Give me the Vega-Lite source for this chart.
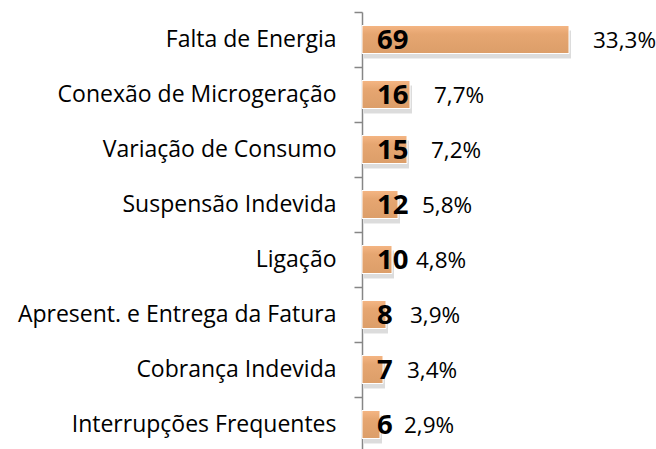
{
  "$schema": "https://vega.github.io/schema/vega-lite/v6.json",
  "width": 294,
  "height": 440,
  "autosize": {"type": "none"},
  "padding": {"left": 362, "top": 12, "right": 0, "bottom": 0},
  "background": "white",
  "config": {"view": {"stroke": null}, "font": "Open Sans"},
  "data": {
    "values": [
      {"categoria": "Falta de Energia", "qtd": 69, "pct": "33,3%"},
      {"categoria": "Conexão de Microgeração", "qtd": 16, "pct": "7,7%"},
      {"categoria": "Variação de Consumo", "qtd": 15, "pct": "7,2%"},
      {"categoria": "Suspensão Indevida", "qtd": 12, "pct": "5,8%"},
      {"categoria": "Ligação", "qtd": 10, "pct": "4,8%"},
      {"categoria": "Apresent. e Entrega da Fatura", "qtd": 8, "pct": "3,9%"},
      {"categoria": "Cobrança Indevida", "qtd": 7, "pct": "3,4%"},
      {"categoria": "Interrupções Frequentes", "qtd": 6, "pct": "2,9%"}
    ]
  },
  "encoding": {
    "y": {
      "field": "categoria",
      "type": "nominal",
      "sort": null,
      "scale": {"paddingInner": 0, "paddingOuter": 0},
      "axis": {
        "title": null,
        "domainColor": "#868686",
        "domainWidth": 1.5,
        "tickColor": "#868686",
        "tickWidth": 1.5,
        "tickSize": 8,
        "tickBand": "extent",
        "labelFont": "Open Sans",
        "labelFontSize": 23,
        "labelColor": "#000000",
        "labelPadding": 18,
        "labelLimit": 400
      }
    },
    "x": {
      "field": "qtd",
      "type": "quantitative",
      "scale": {"domain": [0, 98], "nice": false},
      "axis": null
    }
  },
  "layer": [
    {
      "mark": {"type": "bar", "size": 28, "color": "#9a9a9a", "opacity": 0.35, "xOffset": 2, "yOffset": 5}
    },
    {
      "mark": {
        "type": "bar",
        "size": 28,
        "stroke": "white",
        "strokeWidth": 1,
        "color": {
          "gradient": "linear",
          "x1": 0, "y1": 0, "x2": 0, "y2": 1,
          "stops": [
            {"offset": 0, "color": "#F5B684"},
            {"offset": 0.3, "color": "#E6A671"},
            {"offset": 1, "color": "#DC9E69"}
          ]
        }
      }
    },
    {
      "mark": {"type": "text", "align": "left", "baseline": "middle", "dx": 15, "dy": 1, "fontSize": 27.5, "fontWeight": "bold", "font": "Open Sans", "color": "#000000"},
      "encoding": {"x": {"datum": 0}, "text": {"field": "qtd"}}
    },
    {
      "mark": {"type": "text", "align": "left", "baseline": "middle", "dx": 24, "dy": 1, "fontSize": 22.5, "font": "Open Sans", "color": "#000000"},
      "encoding": {"text": {"field": "pct"}}
    }
  ]
}
